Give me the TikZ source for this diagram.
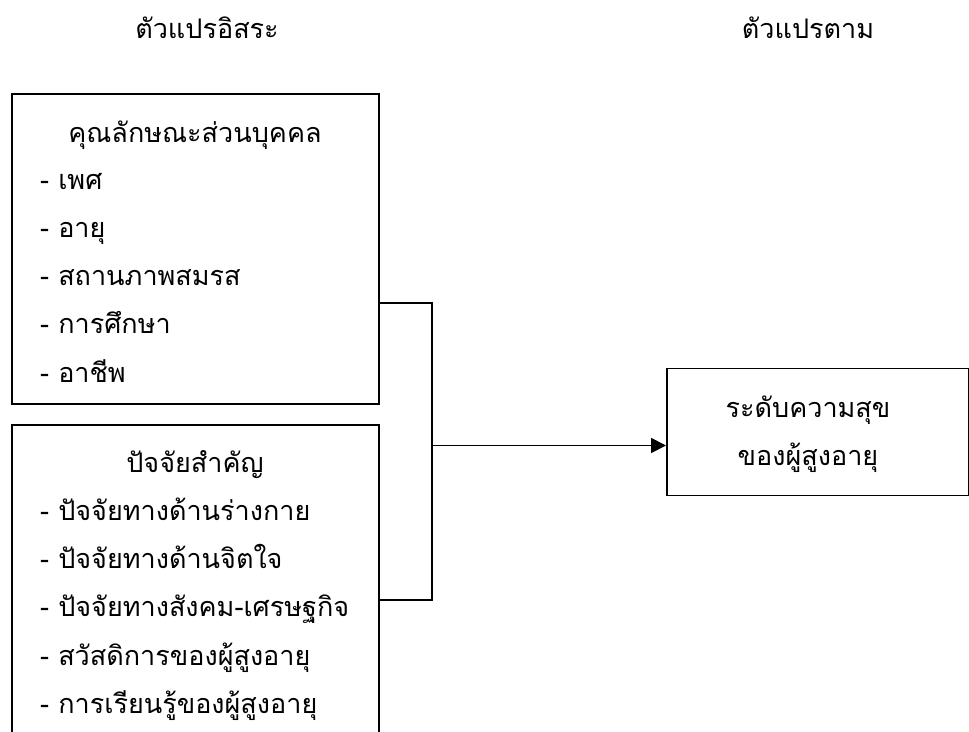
\documentclass[tikz,border=0pt]{standalone}
\usepackage{fontspec}
\newfontfamily\thaifont[Script=Thai]{Loma}
\usetikzlibrary{arrows.meta}
\begin{document}
\begin{tikzpicture}[x=1pt,y=-1pt,
  every node/.style={font=\thaifont\fontsize{27}{30}\selectfont, inner sep=0pt},
  txt/.style={anchor=base},
  box/.style={draw, line width=1.8pt, anchor=north west},
  item/.style={anchor=base west},
  conn/.style={line width=1.8pt},
]
\useasboundingbox (0,0) rectangle (969,731);
\node[txt] (t1) at (207,38) {ตัวแปรอิสระ};
\node[txt] (t2) at (808,38) {ตัวแปรตาม};
\node[box, minimum width=367pt, minimum height=310pt] (b1) at (11,93) {};
\node[txt] (h1) at (195,142) {คุณลักษณะส่วนบุคคล};
\node[item] (a1) at (40,189) {- เพศ};
\node[item] (a2) at (40,237) {- อายุ};
\node[item] (a3) at (40,285) {- สถานภาพสมรส};
\node[item] (a4) at (40,333) {- การศึกษา};
\node[item] (a5) at (40,382) {- อาชีพ};
\node[box, minimum width=367pt, minimum height=330pt] (b2) at (11,424) {};
\node[txt] (h2) at (195,472) {ปัจจัยสำคัญ};
\node[item] (c1) at (40,520) {- ปัจจัยทางด้านร่างกาย};
\node[item] (c2) at (40,568) {- ปัจจัยทางด้านจิตใจ};
\node[item] (c3) at (40,616) {- ปัจจัยทางสังคม-เศรษฐกิจ};
\node[item] (c4) at (40,665) {- สวัสดิการของผู้สูงอายุ};
\node[item] (c5) at (40,713) {- การเรียนรู้ของผู้สูงอายุ};
\node[box, minimum width=302pt, minimum height=127pt] (tg) at (666,367.5) {};
\node[txt] (g1) at (808,417) {ระดับความสุข};
\node[txt] (g2) at (808,465) {ของผู้สูงอายุ};
\coordinate (j1) at (432,303);
\coordinate (j2) at (432,600);
\coordinate (jm) at (432,445.5);
\draw[conn] (b1.east |- j1) -- (j1) -- (j2) -- (b2.east |- j2);
\draw[conn, -{Triangle[length=15pt,width=15pt]}] (jm) -- (tg.west |- jm);
\end{tikzpicture}
\end{document}
